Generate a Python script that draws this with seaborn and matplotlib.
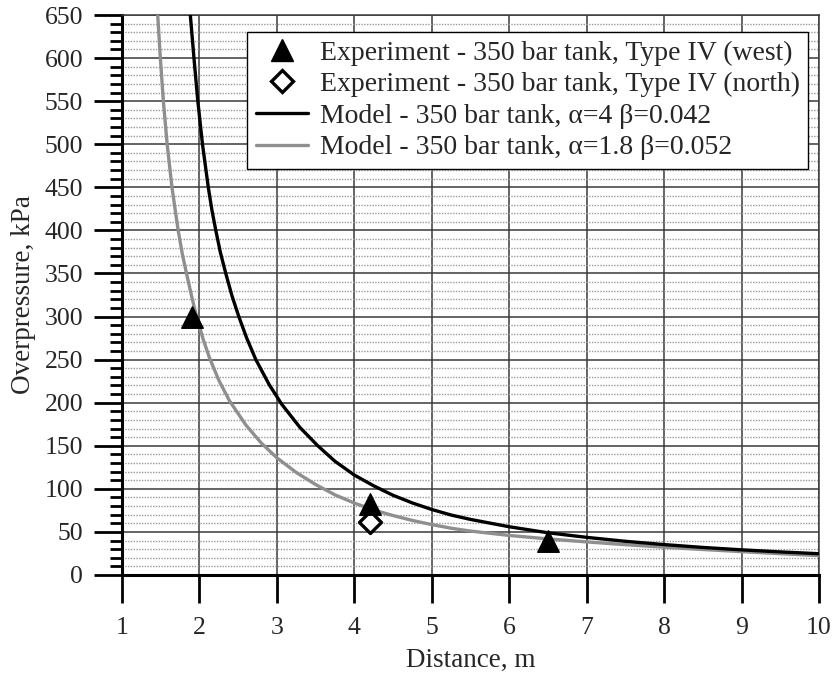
import numpy as np
import pandas as pd
import matplotlib
matplotlib.use("Agg")
import matplotlib.pyplot as plt
import seaborn as sns
from matplotlib.ticker import MultipleLocator
from matplotlib.lines import Line2D

# ---- data ----
west_x = [1.9, 4.2, 6.5]
west_y = [300, 82, 40]
north_x = [4.2]
north_y = [61]

model1_x = [1.882, 1.929, 1.979, 2.039, 2.114, 2.16, 2.211, 2.27, 2.340, 2.42, 2.508, 2.61,
            2.728, 2.9, 3.064, 3.3, 3.528, 3.75, 4.0, 4.25, 4.5, 4.75, 5.0, 5.25, 5.5, 6.0,
            6.5, 7.0, 7.5, 8.0, 8.5, 9.0, 9.5, 10.0]
model1_y = [650, 600, 550, 500, 450, 424, 400, 374.5, 350, 324, 300, 275,
            250, 221, 198, 171, 150, 132, 116, 103.5, 92.5, 83.6, 76, 69.6, 64.5, 56,
            49, 43.7, 39.1, 35.3, 32, 29.2, 26.8, 24.7]
model2_x = [1.461, 1.495, 1.534, 1.583, 1.645, 1.725, 1.78, 1.833, 1.9, 1.963, 2.05, 2.13,
            2.25, 2.389, 2.6, 2.8, 3.0, 3.25, 3.5, 3.75, 4.0, 4.25, 4.5, 4.75, 5.0, 5.25,
            5.5, 6.0, 6.5, 7.0, 7.5, 8.0, 8.5, 9.0, 9.5, 10.0]
model2_y = [650, 600, 550, 500, 450, 400, 372, 350, 323, 300, 273, 252,
            226, 202, 174, 153, 136, 119, 105, 93, 83.5, 75.5, 69, 63.3, 58.5, 54.3,
            51, 45.9, 41.9, 38.4, 35.2, 32.3, 29.6, 27.1, 24.7, 22.5]

labels = ["Experiment - 350 bar tank, Type IV (west)",
          "Experiment - 350 bar tank, Type IV (north)",
          "Model - 350 bar tank, \u03b1=4 \u03b2=0.042",
          "Model - 350 bar tank, \u03b1=1.8 \u03b2=0.052"]
x_ticks = list(range(1, 11))
y_ticks = list(range(0, 651, 50))

sns.set_style("white")
plt.rcParams['font.family'] = ['Liberation Serif', 'DejaVu Serif']

fig = plt.figure(figsize=(8.34, 6.82), dpi=100)
ax = fig.add_axes([0.1463, 0.1569, 0.8357, 0.8211])

GRAY = '#8f8f8f'
df1 = pd.DataFrame({'x': model1_x, 'y': model1_y})
df2 = pd.DataFrame({'x': model2_x, 'y': model2_y})
sns.lineplot(data=df2, x='x', y='y', ax=ax, color=GRAY, lw=2.4, sort=False, zorder=3)
sns.lineplot(data=df1, x='x', y='y', ax=ax, color='black', lw=2.4, sort=False, zorder=4)
sns.scatterplot(x=west_x, y=west_y, ax=ax, marker='^', s=240, color='black',
                edgecolor='black', linewidth=1, zorder=6)
sns.scatterplot(x=north_x, y=north_y, ax=ax, marker='D', s=125, facecolor='white',
                edgecolor='black', linewidth=2.4, zorder=5)

ax.set_xlim(1, 10)
ax.set_ylim(0, 650)
ax.set_xticks(x_ticks)
ax.set_yticks(y_ticks)
ax.yaxis.set_minor_locator(MultipleLocator(10))

ax.grid(True, which='major', axis='both', color='#3a3a3a', lw=1.1, zorder=0)
ax.grid(True, which='minor', axis='y', color='#9a9a9a', lw=1.0, ls=(0, (1, 1)), zorder=0)
ax.set_axisbelow(True)

ax.tick_params(axis='both', which='major', direction='out', length=20, width=2.0,
               color='black', labelsize=18.5, left=True, bottom=True)
ax.tick_params(axis='x', which='major', pad=10)
ax.tick_params(axis='y', which='major', pad=8)
ax.tick_params(axis='y', which='minor', direction='out', length=9, width=2.0,
               color='black', left=True)

for s in ['left', 'bottom']:
    ax.spines[s].set_color('black')
    ax.spines[s].set_linewidth(2.2)
for s in ['top', 'right']:
    ax.spines[s].set_color('#3a3a3a')
    ax.spines[s].set_linewidth(1.1)

ax.set_xlabel("Distance, m", fontsize=19.5, labelpad=7)
ax.set_ylabel("Overpressure, kPa", fontsize=19.5, labelpad=6)

handles = [
    Line2D([], [], ls='none', marker='^', ms=15.5, color='black'),
    Line2D([], [], ls='none', marker='D', ms=11, mfc='white', mec='black', mew=2.4),
    Line2D([], [], color='black', lw=2.4),
    Line2D([], [], color=GRAY, lw=2.4),
]
leg = ax.legend(handles, labels, loc='upper right', bbox_to_anchor=(0.984, 0.970),
                borderaxespad=0, fontsize=20, frameon=True, fancybox=False,
                framealpha=1, edgecolor='black', handlelength=1.9,
                labelspacing=0.22, handletextpad=0.4, borderpad=0.3)
leg.get_frame().set_linewidth(1.0)
leg.set_zorder(10)

fig.savefig('out.png', dpi=100)
